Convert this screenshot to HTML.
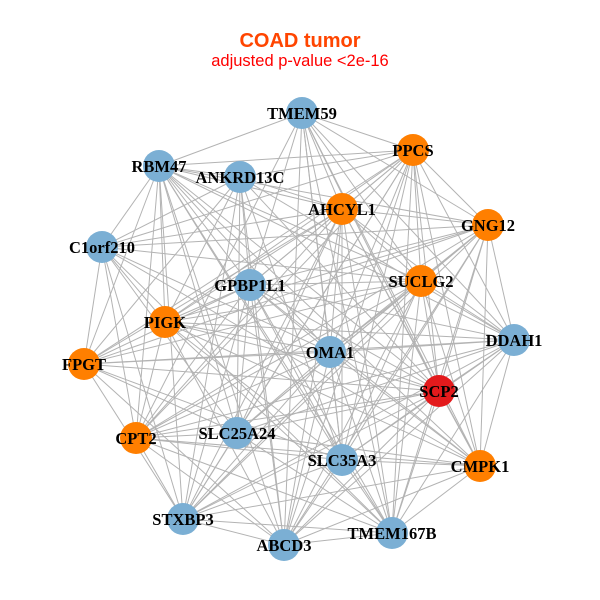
<!DOCTYPE html>
<html><head><style>body{margin:0;background:#fff}svg{display:block}</style></head><body>
<svg id="s" width="600" height="600" xmlns="http://www.w3.org/2000/svg">
<g id="e" stroke="#b3b3b3" stroke-width="1"></g>
<g id="n"></g>
<text x="300" y="47" text-anchor="middle" font-family="Liberation Sans, sans-serif" font-weight="bold" font-size="20" fill="#ff4500">COAD tumor</text>
<text x="300" y="66" text-anchor="middle" font-family="Liberation Sans, sans-serif" font-size="16.5" fill="#ff0000">adjusted p-value &lt;2e-16</text>
<g font-family="Liberation Serif, serif" font-weight="bold" font-size="16.5" text-anchor="middle" fill="#000">
<text x="302" y="119">TMEM59</text>
<text x="413" y="156">PPCS</text>
<text x="159" y="172">RBM47</text>
<text x="240" y="183">ANKRD13C</text>
<text x="342" y="215">AHCYL1</text>
<text x="488" y="231">GNG12</text>
<text x="102" y="253">C1orf210</text>
<text x="250" y="291">GPBP1L1</text>
<text x="421" y="287">SUCLG2</text>
<text x="165" y="328">PIGK</text>
<text x="514" y="346">DDAH1</text>
<text x="330" y="358">OMA1</text>
<text x="84" y="370">FPGT</text>
<text x="439" y="397">SCP2</text>
<text x="136" y="444">CPT2</text>
<text x="237" y="439">SLC25A24</text>
<text x="342" y="466">SLC35A3</text>
<text x="480" y="472">CMPK1</text>
<text x="183" y="525">STXBP3</text>
<text x="284" y="551">ABCD3</text>
<text x="392" y="539">TMEM167B</text>
</g>
</svg>
<script>
var B="#7bafd4",O="#ff7f00",R="#e31a1c";
var N=[[302,113,B],[413,150,O],[159,166,B],[240,177,B],[342,209,O],[488,225,O],[102,247,B],[250,285,B],[421,281,O],[165,322,O],[514,340,B],[330,352,B],[84,364,O],[439,391,R],[136,438,O],[237,433,B],[342,460,B],[480,466,O],[183,519,B],[284,545,B],[392,533,B]];
var ns="http://www.w3.org/2000/svg",e=document.getElementById("e"),g=document.getElementById("n");
for(var i=0;i<N.length;i++)for(var j=i+1;j<N.length;j++){
 if(((i*7+j*3)%9)==0)continue;
 var l=document.createElementNS(ns,"line");
 l.setAttribute("x1",N[i][0]);l.setAttribute("y1",N[i][1]);l.setAttribute("x2",N[j][0]);l.setAttribute("y2",N[j][1]);e.appendChild(l);}
N.forEach(function(p){var c=document.createElementNS(ns,"circle");c.setAttribute("cx",p[0]);c.setAttribute("cy",p[1]);c.setAttribute("r",16);c.setAttribute("fill",p[2]);g.appendChild(c);});
</script>
</body></html>
